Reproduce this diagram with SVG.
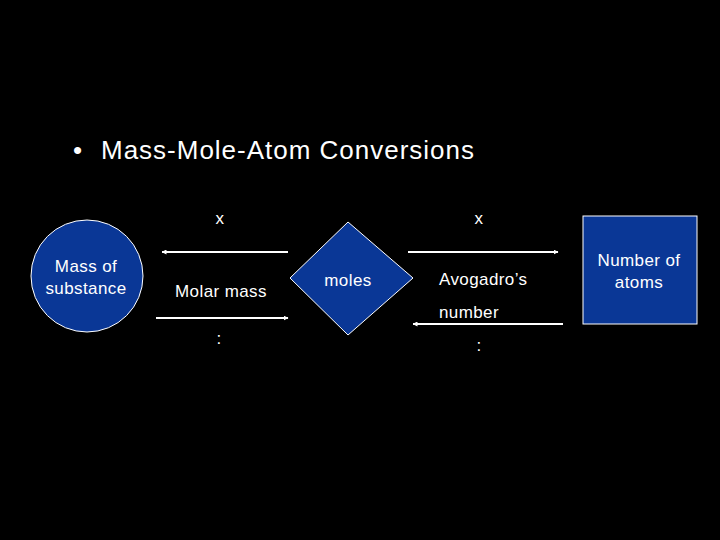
<svg xmlns="http://www.w3.org/2000/svg" width="720" height="540" viewBox="0 0 720 540">
<defs>
<style>
text{font-family:"Liberation Sans",Arial,sans-serif;fill:#fff}
.lbl{font-size:17px;letter-spacing:0.4px}
.node{fill:#0a3796;stroke:#fff;stroke-width:1}
.conn{stroke:#fff;stroke-width:2;fill:none}
</style>
<marker id="ah" viewBox="0 0 10 10" refX="9" refY="5" markerWidth="5" markerHeight="5" orient="auto" markerUnits="userSpaceOnUse"><path d="M0,0L10,5L0,10Z" fill="#fff"/></marker>
</defs>
<rect width="720" height="540" fill="#000"/>
<text x="73" y="159" font-size="26">•</text>
<text x="101" y="159" font-size="26" textLength="373">Mass-Mole-Atom Conversions</text>
<g id="mass">
<circle class="node" cx="87" cy="276" r="56"/>
<text class="lbl" x="86" y="272" text-anchor="middle">Mass of</text>
<text class="lbl" x="86" y="294" text-anchor="middle">substance</text>
</g>
<g id="moles">
<polygon class="node" points="348,222 413,278 348,335 290,278"/>
<text class="lbl" x="348" y="286" text-anchor="middle">moles</text>
</g>
<g id="atoms">
<rect class="node" x="583" y="216" width="114" height="108"/>
<text class="lbl" x="639" y="266" text-anchor="middle">Number of</text>
<text class="lbl" x="639" y="288" text-anchor="middle">atoms</text>
</g>
<g id="connectors">
<line class="conn" x1="288" y1="252" x2="162" y2="252" marker-end="url(#ah)"/>
<line class="conn" x1="156" y1="318" x2="288" y2="318" marker-end="url(#ah)"/>
<line class="conn" x1="408" y1="252" x2="558" y2="252" marker-end="url(#ah)"/>
<line class="conn" x1="563" y1="324" x2="413" y2="324" marker-end="url(#ah)"/>
</g>
<g id="labels">
<text class="lbl" x="220" y="224" text-anchor="middle">x</text>
<text class="lbl" x="479" y="224" text-anchor="middle">x</text>
<text class="lbl" x="221" y="297" text-anchor="middle">Molar mass</text>
<text class="lbl" x="219" y="344" text-anchor="middle">:</text>
<text class="lbl" x="439" y="285">Avogadro’s</text>
<text class="lbl" x="439" y="318">number</text>
<text class="lbl" x="479" y="351" text-anchor="middle">:</text>
</g>
</svg>
